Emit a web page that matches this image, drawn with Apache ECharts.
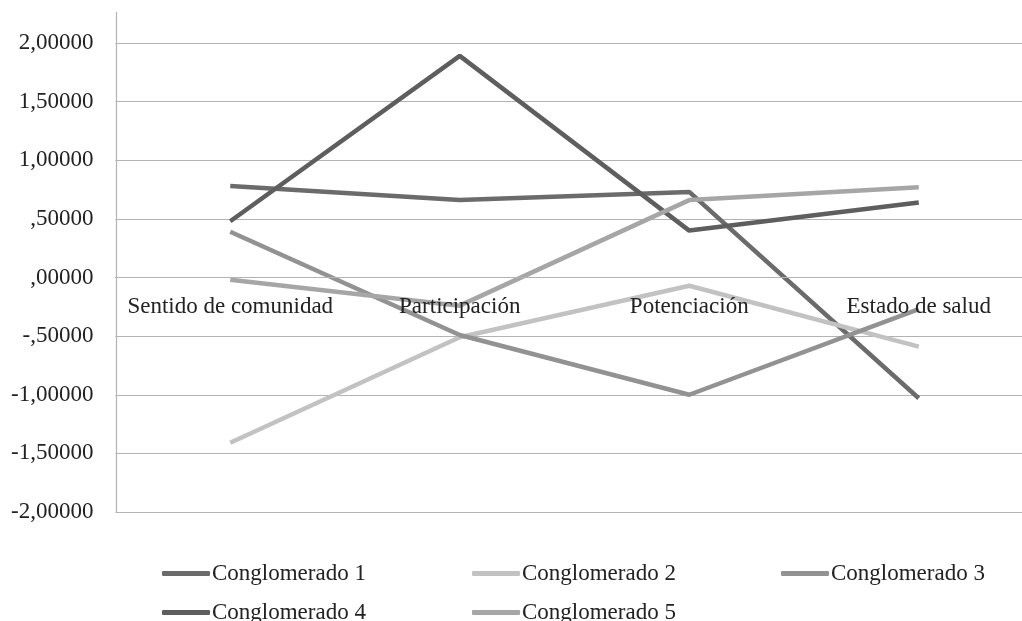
<!DOCTYPE html>
<html><head><meta charset="utf-8">
<script src="https://cdn.jsdelivr.net/npm/echarts@6/dist/echarts.min.js"></script>
<style>html,body{margin:0;padding:0;background:#fff;overflow:hidden;width:1022px;height:621px}#c{width:1040px;height:621px}</style>
</head><body><div id="c"></div>
<script>
const categories = ['Sentido de comunidad', 'Participación', 'Potenciación', 'Estado de salud'];
const seriesNames = ['Conglomerado 1', 'Conglomerado 2', 'Conglomerado 3', 'Conglomerado 4', 'Conglomerado 5'];
const c1 = [0.78, 0.66, 0.73, -1.03];
const c2 = [-1.41, -0.51, -0.07, -0.59];
const c3 = [0.39, -0.49, -1.00, -0.27];
const c4 = [0.48, 1.89, 0.40, 0.64];
const c5 = [-0.02, -0.24, 0.66, 0.77];
const seriesValues = [c1, c2, c3, c4, c5];
const colors = ['#6b6b6b', '#c2c2c2', '#929292', '#5e5e5e', '#a6a6a6'];
const yTicks = { min: -2, max: 2, interval: 0.5 };

const font = '"Liberation Serif", "DejaVu Serif", serif';
const chart = echarts.init(document.getElementById('c'));

function fmt(v) {
  let s = Math.abs(v).toFixed(5).replace('.', ',');
  if (s.startsWith('0,')) s = s.slice(1);
  return (v < 0 ? '-' : '') + s;
}

const legendPos = [[157, 557], [467, 557], [776, 557], [157, 596], [467, 596]];

chart.setOption({
  animation: false,
  color: colors,
  grid: { left: 115.5, width: 918, top: 43, height: 469 },
  xAxis: {
    type: 'category', data: categories, boundaryGap: true, z: 10,
    position: 'bottom', offset: -234.5,
    axisLine: { show: true, onZero: false, lineStyle: { color: '#b3b3b3', width: 1 } },
    axisTick: { show: false },
    axisLabel: { color: '#222', fontFamily: font, fontSize: 23, margin: 18, interval: 0 },
    splitLine: { show: false }
  },
  yAxis: {
    type: 'value', min: yTicks.min, max: yTicks.max, interval: yTicks.interval,
    axisLine: { show: false },
    axisTick: { show: false },
    axisLabel: { color: '#222', fontFamily: font, fontSize: 23, margin: 22, formatter: fmt },
    splitLine: { show: true, lineStyle: { color: '#b3b3b3', width: 1.2 } }
  },
  graphic: [{
    type: 'line', shape: { x1: 116.5, y1: 12, x2: 116.5, y2: 512 },
    style: { stroke: '#b3b3b3', lineWidth: 1.2 }, z: 5
  }],
  legend: legendPos.map((p, i) => ({
    data: [seriesNames[i]], left: p[0], top: p[1],
    itemWidth: 48, itemHeight: 5, icon: 'roundRect',
    textStyle: { fontFamily: font, fontSize: 23, color: '#222', padding: [0, 0, 0, -3] }
  })),
  series: seriesNames.map((n, i) => ({
    name: n, type: 'line', data: seriesValues[i],
    symbol: 'none', lineStyle: { width: 4.5, color: colors[i] },
    itemStyle: { color: colors[i] }
  }))
});
</script></body></html>
